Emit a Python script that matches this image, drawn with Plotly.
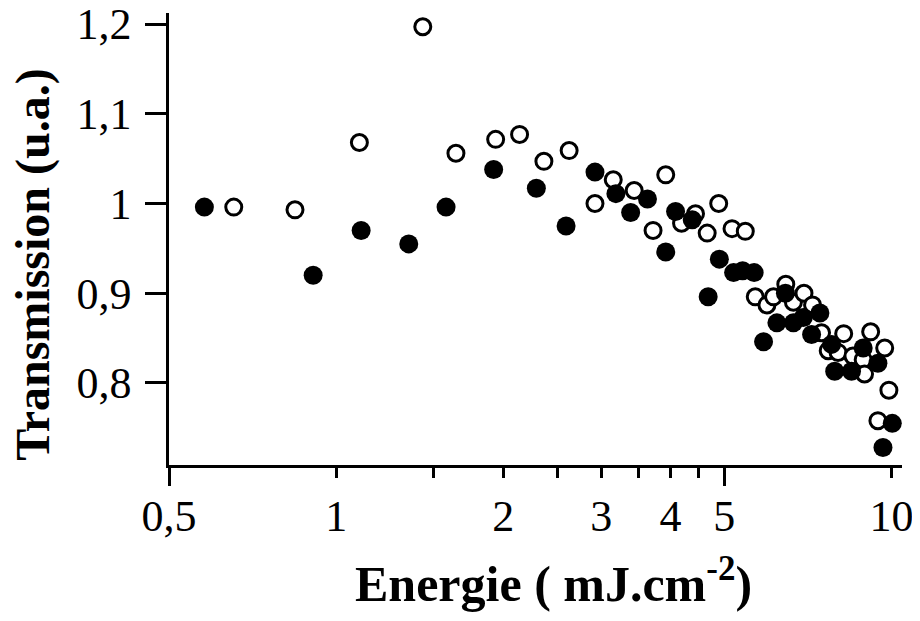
import math
import plotly.graph_objects as go

# Filled circles
filled_x = [0.579, 0.909, 1.109, 1.351, 1.577, 1.921, 2.293, 2.594, 2.924, 3.189,
            3.390, 3.635, 3.921, 4.084, 4.376, 4.675, 4.897, 5.195, 5.393, 5.657,
            5.882, 6.216, 6.44, 6.657, 6.935, 7.178, 7.43, 7.80, 7.90, 8.47,
            8.89, 9.45, 9.65, 10.03]
filled_y = [0.996, 0.920, 0.970, 0.955, 0.996, 1.038, 1.017, 0.975, 1.035, 1.011,
            0.990, 1.005, 0.946, 0.991, 0.982, 0.896, 0.938, 0.923, 0.925, 0.923,
            0.846, 0.867, 0.900, 0.867, 0.873, 0.854, 0.878, 0.843, 0.813, 0.813,
            0.839, 0.822, 0.728, 0.755]

# Open circles
open_x = [0.654, 0.843, 1.101, 1.432, 1.643, 1.937, 2.139, 2.366, 2.627, 2.924,
          3.154, 3.440, 3.720, 3.921, 4.187, 4.436, 4.656, 4.884, 5.161, 5.453,
          5.683, 5.965, 6.13, 6.45, 6.657, 6.955, 7.207, 7.48, 7.69, 8.01,
          8.20, 8.52, 8.89, 8.94, 9.17, 9.45, 9.72, 9.89]
open_y = [0.996, 0.993, 1.068, 1.197, 1.056, 1.0715, 1.077, 1.047, 1.059, 1.000,
          1.0265, 1.0145, 0.970, 1.032, 0.978, 0.9885, 0.967, 1.000, 0.972, 0.969,
          0.896, 0.887, 0.896, 0.910, 0.890, 0.900, 0.887, 0.856, 0.836, 0.834,
          0.855, 0.830, 0.826, 0.810, 0.857, 0.758, 0.839, 0.792]

x_tickvals = [0.5, 1, 2, 3, 4, 5, 10]
x_ticktext = ["0,5", "1", "2", "3", "4", "5", "10"]
x_minor_ticks = [1.5, 2.5, 3.5, 4.5]
x_long_ticks = [0.5, 5]
y_tickvals = [0.8, 0.9, 1.0, 1.1, 1.2]
y_ticktext = ["0,8", "0,9", "1", "1,1", "1,2"]

FONT = "Liberation Serif"
x_range = [math.log10(0.5), 1.0188]
y_range = [0.7086, 1.2123]

fig = go.Figure()
fig.add_trace(go.Scatter(
    x=open_x, y=open_y, mode="markers",
    marker=dict(symbol="circle", size=16, color="white",
                line=dict(color="black", width=3)),
    showlegend=False))
fig.add_trace(go.Scatter(
    x=filled_x, y=filled_y, mode="markers",
    marker=dict(symbol="circle", size=19, color="black",
                line=dict(width=0)),
    showlegend=False))
# helper trace for the overlay axis carrying the long ticks
fig.add_trace(go.Scatter(x=[], y=[], xaxis="x2", yaxis="y", showlegend=False))

# page body has an 8 px margin, so the figure is 8 px smaller and shifted
fig.update_layout(
    width=912, height=613,
    margin=dict(l=161, r=18, t=5, b=156),
    paper_bgcolor="white", plot_bgcolor="white",
    font=dict(family=FONT, color="black"),
    xaxis=dict(
        type="log", range=x_range, automargin=False,
        tickvals=x_tickvals, ticktext=x_ticktext,
        ticks="outside", ticklen=10, tickwidth=2.5, tickcolor="black",
        showline=True, linewidth=2.5, linecolor="black",
        showgrid=False, zeroline=False, ticklabeloverflow="allow",
        tickfont=dict(family=FONT, size=44, color="black"),
        minor=dict(tickvals=x_minor_ticks, ticks="outside", ticklen=10,
                   tickwidth=2.5, tickcolor="black", showgrid=False),
    ),
    xaxis2=dict(
        type="log", range=x_range, overlaying="x", anchor="y", side="bottom",
        automargin=False,
        tickvals=x_long_ticks, showticklabels=False,
        ticks="outside", ticklen=20, tickwidth=2.5, tickcolor="black",
        showline=False, showgrid=False, zeroline=False,
    ),
    yaxis=dict(
        range=y_range, automargin=False,
        tickvals=y_tickvals, ticktext=y_ticktext,
        ticks="outside", ticklen=21, tickwidth=2.5, tickcolor="black",
        showline=True, linewidth=2.5, linecolor="black",
        showgrid=False, zeroline=False, ticklabeloverflow="allow",
        tickfont=dict(family=FONT, size=44, color="black"),
        ticklabelstandoff=5,
    ),
    annotations=[
        dict(text="<b>Transmission (u.a.)</b>", xref="paper", yref="paper",
             x=-0.1855, y=0.443, xanchor="center", yanchor="middle",
             textangle=-90, showarrow=False,
             font=dict(family=FONT, size=48, color="black")),
        dict(text="<b>Energie ( mJ.cm<sup>-2</sup>)</b>", xref="paper", yref="paper",
             x=0.525, y=-0.2566, xanchor="center", yanchor="middle",
             showarrow=False,
             font=dict(family=FONT, size=50, color="black")),
    ],
)

fig.write_html("out.html")
